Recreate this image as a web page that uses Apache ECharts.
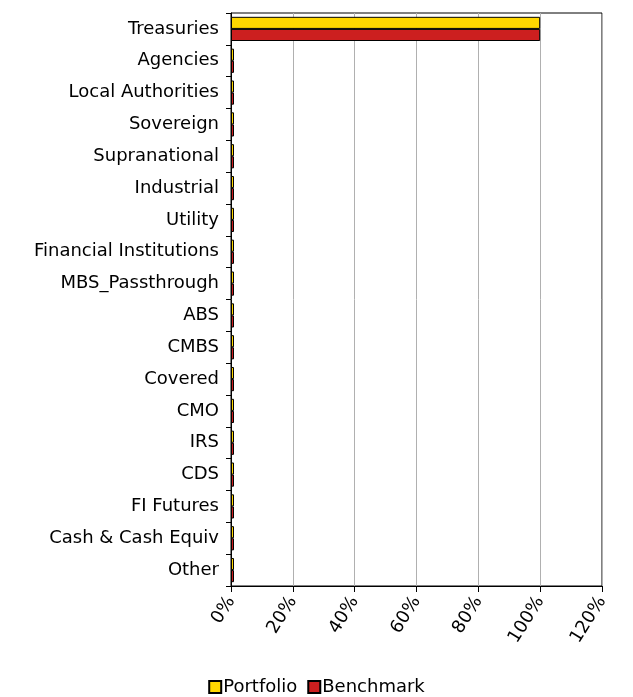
<!DOCTYPE html>
<html><head><meta charset="utf-8">
<script src="https://cdn.jsdelivr.net/npm/echarts@6/dist/echarts.min.js"></script>
<style>html,body{margin:0;padding:0;background:#fff}#c{width:633px;height:697px}</style>
</head><body><div id="c"></div>
<script>
const categories = ["Treasuries","Agencies","Local Authorities","Sovereign","Supranational","Industrial","Utility","Financial Institutions","MBS_Passthrough","ABS","CMBS","Covered","CMO","IRS","CDS","FI Futures","Cash & Cash Equiv","Other"];
const portfolio = [100,0,0,0,0,0,0,0,0,0,0,0,0,0,0,0,0,0];
const benchmark = [100,0,0,0,0,0,0,0,0,0,0,0,0,0,0,0,0,0];
const xTicks = [0,20,40,60,80,100,120];

const chart = echarts.init(document.getElementById('c'));
const font = "'DejaVu Sans'";
chart.setOption({
  animation:false,
  grid:{left:231,right:31,top:13,bottom:111,show:true,borderColor:'#000',borderWidth:1},
  legend:{top:673,left:'center',itemWidth:12,itemHeight:12,itemGap:10,
    icon:'rect',
    textStyle:{fontFamily:font,fontSize:18,color:'#000',padding:[0,0,0,-3]},
    data:['Portfolio','Benchmark']},
  xAxis:{type:'value',min:xTicks[0],max:xTicks[xTicks.length-1],interval:20,
    axisLine:{show:true,lineStyle:{color:'#000'}},
    axisTick:{show:true,length:6,lineStyle:{color:'#000'}},
    splitLine:{show:true,lineStyle:{color:'#b0b0b0'}},
    axisLabel:{rotate:58,formatter:v=>v+'%',fontFamily:font,fontSize:18,color:'#000',margin:12}},
  yAxis:{type:'category',data:categories,inverse:true,
    axisLine:{show:true,lineStyle:{color:'#000'}},
    axisTick:{show:true,length:5,lineStyle:{color:'#000'}},
    axisLabel:{fontFamily:font,fontSize:18,color:'#000',margin:12}},
  series:[
    {name:'Portfolio',type:'bar',data:portfolio,barGap:'0%',barCategoryGap:'24%',barMinHeight:3,
      itemStyle:{color:'#FFD700',borderColor:'#000',borderWidth:1}},
    {name:'Benchmark',type:'bar',data:benchmark,barMinHeight:3,
      itemStyle:{color:'#CC1F1F',borderColor:'#000',borderWidth:1}}
  ]
});
</script></body></html>
